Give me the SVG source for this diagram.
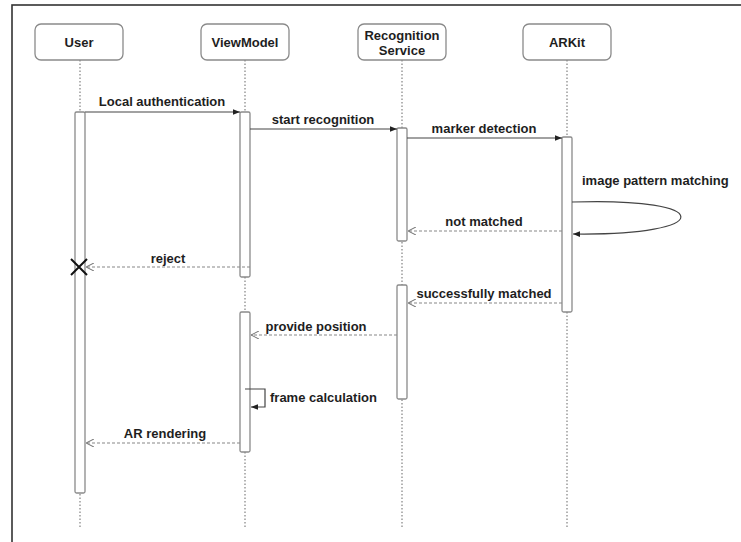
<svg xmlns="http://www.w3.org/2000/svg" width="741" height="542" viewBox="0 0 741 542">
<style>
text{font-family:"Liberation Sans",Arial,Helvetica,sans-serif;font-weight:bold;font-size:13px;fill:#1e1e1e}
.head{fill:#fff;stroke:#8a8a8a;stroke-width:1.3}
.life{stroke:#9a9a9a;stroke-width:1.5;stroke-dasharray:1.5 2;fill:none}
.act{fill:#fff;stroke:#8a8a8a;stroke-width:1.3}
.msg{stroke:#444;stroke-width:1.2;fill:none}
.ret{stroke:#888;stroke-width:1.2;stroke-dasharray:3 2;fill:none}
.mid{text-anchor:middle}
</style>
<defs>
<marker id="fill" viewBox="0 0 10 10" refX="10" refY="5" markerWidth="7" markerHeight="7" orient="auto" markerUnits="userSpaceOnUse">
<path d="M0,1 L10,5 L0,9 Z" fill="#222"/>
</marker>
<marker id="open" viewBox="0 0 10 10" refX="10" refY="5" markerWidth="8" markerHeight="8" orient="auto" markerUnits="userSpaceOnUse">
<path d="M0,0 L10,5 L0,10" fill="none" stroke="#777" stroke-width="1.3"/>
</marker>
</defs>
<rect x="12" y="5" width="740" height="545" fill="#fff" stroke="#333" stroke-width="1.6"/>
<g id="lifelines">
<line class="life" x1="80" y1="60" x2="80" y2="527"/>
<line class="life" x1="245" y1="60" x2="245" y2="527"/>
<line class="life" x1="402" y1="60" x2="402" y2="527"/>
<line class="life" x1="567" y1="60" x2="567" y2="527"/>
</g>
<g id="user">
<rect class="head" x="35" y="24" width="88" height="36" rx="6"/>
<text class="mid" x="79" y="47">User</text>
<rect class="act" x="75" y="112" width="10" height="381" rx="1.5"/>
</g>
<g id="viewmodel">
<rect class="head" x="201" y="24" width="88" height="36" rx="6"/>
<text class="mid" x="245" y="47">ViewModel</text>
<rect class="act" x="240" y="112" width="10" height="165" rx="1.5"/>
<rect class="act" x="240" y="312" width="10" height="140" rx="1.5"/>
</g>
<g id="recognition">
<rect class="head" x="358" y="24" width="88" height="36" rx="6"/>
<text class="mid" x="402" y="40">Recognition</text>
<text class="mid" x="402" y="55">Service</text>
<rect class="act" x="397" y="128" width="10" height="113" rx="1.5"/>
<rect class="act" x="397" y="285" width="10" height="114" rx="1.5"/>
</g>
<g id="arkit">
<rect class="head" x="523" y="24" width="88" height="36" rx="6"/>
<text class="mid" x="567" y="47">ARKit</text>
<rect class="act" x="562" y="137" width="10" height="175" rx="1.5"/>
</g>
<g id="connectors">
<line class="msg" x1="85" y1="112" x2="240" y2="112" marker-end="url(#fill)"/>
<line class="msg" x1="250" y1="129" x2="397" y2="129" marker-end="url(#fill)"/>
<line class="msg" x1="407" y1="138" x2="562" y2="138" marker-end="url(#fill)"/>
<path class="msg" d="M572,202 C717,197 717,236 573,234" marker-end="url(#fill)"/>
<line class="ret" x1="562" y1="231" x2="408" y2="231" marker-end="url(#open)"/>
<line class="ret" x1="250" y1="267" x2="86" y2="267" marker-end="url(#open)"/>
<line class="ret" x1="562" y1="303" x2="408" y2="303" marker-end="url(#open)"/>
<line class="ret" x1="397" y1="335" x2="251" y2="335" marker-end="url(#open)"/>
<path class="msg" d="M245,389 L265,389 L265,407 L251,407" marker-end="url(#fill)"/>
<line class="ret" x1="240" y1="443" x2="86" y2="443" marker-end="url(#open)"/>
</g>
<g id="destroy">
<path d="M71,259 L87,275 M87,259 L71,275" stroke="#111" stroke-width="2"/>
</g>
<g id="labels">
<text class="mid" x="162" y="106">Local authentication</text>
<text class="mid" x="323" y="124">start recognition</text>
<text class="mid" x="484" y="133">marker detection</text>
<text x="582" y="185">image pattern matching</text>
<text class="mid" x="484" y="226">not matched</text>
<text class="mid" x="168" y="263">reject</text>
<text class="mid" x="484" y="298">successfully matched</text>
<text class="mid" x="316" y="331">provide position</text>
<text x="270" y="402">frame calculation</text>
<text class="mid" x="165" y="438">AR rendering</text>
</g>
</svg>
